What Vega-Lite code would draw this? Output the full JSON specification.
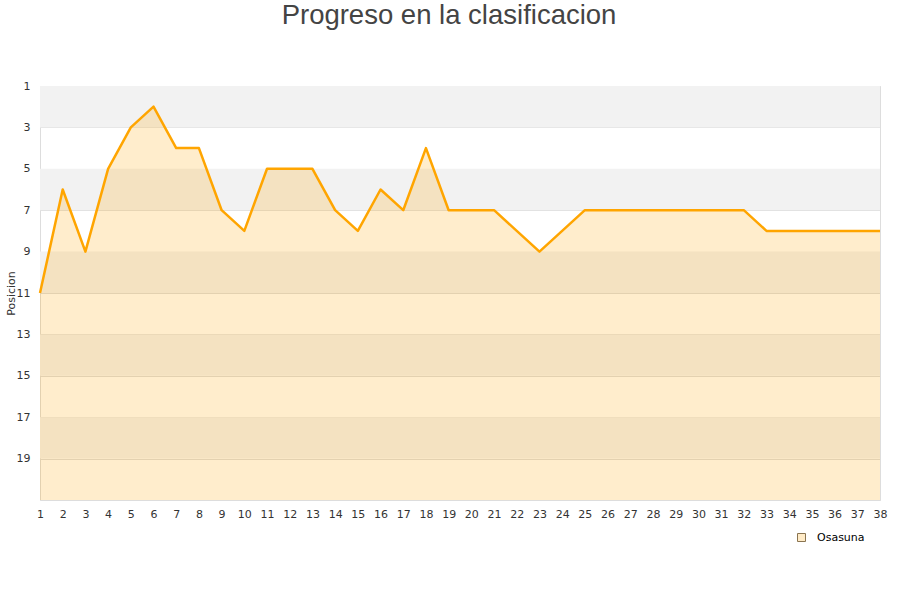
{
  "$schema": "https://vega.github.io/schema/vega-lite/v6.json",
  "width": 840,
  "height": 414,
  "autosize": {"type": "none"},
  "padding": {"left": 40, "top": 86, "right": 20, "bottom": 100},
  "background": "white",
  "title": {
    "text": "Progreso en la clasificacion",
    "font": "Liberation Sans",
    "fontSize": 27.5,
    "fontWeight": "normal",
    "color": "#444444",
    "anchor": "middle",
    "offset": 51,
    "dx": -11
  },
  "config": {
    "view": {"stroke": "#dddddd"},
    "axis": {
      "labelFont": "DejaVu Sans",
      "labelFontSize": 11,
      "labelColor": "#333333",
      "titleFont": "DejaVu Sans",
      "titleFontSize": 11,
      "titleFontWeight": "normal",
      "titleColor": "#333333",
      "ticks": false,
      "domain": false,
      "gridColor": "#dddddd",
      "labelOverlap": false
    },
    "axisX": {"labelOverlap": false, "labelSeparation": 0, "labelBound": false}
  },
  "datasets": {
    "bands": [
      {"y": 1, "y2": 3},
      {"y": 5, "y2": 7},
      {"y": 9, "y2": 11},
      {"y": 13, "y2": 15},
      {"y": 17, "y2": 19}
    ],
    "prog": [
      {"jornada": 1, "pos": 11, "team": "Osasuna"},
      {"jornada": 2, "pos": 6, "team": "Osasuna"},
      {"jornada": 3, "pos": 9, "team": "Osasuna"},
      {"jornada": 4, "pos": 5, "team": "Osasuna"},
      {"jornada": 5, "pos": 3, "team": "Osasuna"},
      {"jornada": 6, "pos": 2, "team": "Osasuna"},
      {"jornada": 7, "pos": 4, "team": "Osasuna"},
      {"jornada": 8, "pos": 4, "team": "Osasuna"},
      {"jornada": 9, "pos": 7, "team": "Osasuna"},
      {"jornada": 10, "pos": 8, "team": "Osasuna"},
      {"jornada": 11, "pos": 5, "team": "Osasuna"},
      {"jornada": 12, "pos": 5, "team": "Osasuna"},
      {"jornada": 13, "pos": 5, "team": "Osasuna"},
      {"jornada": 14, "pos": 7, "team": "Osasuna"},
      {"jornada": 15, "pos": 8, "team": "Osasuna"},
      {"jornada": 16, "pos": 6, "team": "Osasuna"},
      {"jornada": 17, "pos": 7, "team": "Osasuna"},
      {"jornada": 18, "pos": 4, "team": "Osasuna"},
      {"jornada": 19, "pos": 7, "team": "Osasuna"},
      {"jornada": 20, "pos": 7, "team": "Osasuna"},
      {"jornada": 21, "pos": 7, "team": "Osasuna"},
      {"jornada": 22, "pos": 8, "team": "Osasuna"},
      {"jornada": 23, "pos": 9, "team": "Osasuna"},
      {"jornada": 24, "pos": 8, "team": "Osasuna"},
      {"jornada": 25, "pos": 7, "team": "Osasuna"},
      {"jornada": 26, "pos": 7, "team": "Osasuna"},
      {"jornada": 27, "pos": 7, "team": "Osasuna"},
      {"jornada": 28, "pos": 7, "team": "Osasuna"},
      {"jornada": 29, "pos": 7, "team": "Osasuna"},
      {"jornada": 30, "pos": 7, "team": "Osasuna"},
      {"jornada": 31, "pos": 7, "team": "Osasuna"},
      {"jornada": 32, "pos": 7, "team": "Osasuna"},
      {"jornada": 33, "pos": 8, "team": "Osasuna"},
      {"jornada": 34, "pos": 8, "team": "Osasuna"},
      {"jornada": 35, "pos": 8, "team": "Osasuna"},
      {"jornada": 36, "pos": 8, "team": "Osasuna"},
      {"jornada": 37, "pos": 8, "team": "Osasuna"},
      {"jornada": 38, "pos": 8, "team": "Osasuna"}
    ]
  },
  "layer": [
    {
      "data": {"name": "bands"},
      "mark": {"type": "rect", "fill": "#f2f2f2"},
      "encoding": {
        "x": {
          "datum": 1,
          "type": "quantitative",
          "scale": {"domain": [1, 38], "nice": false, "zero": false},
          "axis": {"values": [1,2,3,4,5,6,7,8,9,10,11,12,13,14,15,16,17,18,19,20,21,22,23,24,25,26,27,28,29,30,31,32,33,34,35,36,37,38], "grid": false, "title": null, "labelPadding": 8, "labelFlush": false, "labelOverlap": false, "labelSeparation": 0, "labelBound": false}
        },
        "x2": {"datum": 38},
        "y": {
          "field": "y",
          "type": "quantitative",
          "scale": {"domain": [1, 21], "reverse": true, "nice": false, "zero": false},
          "axis": {"values": [1,3,5,7,9,11,13,15,17,19,21], "labelExpr": "datum.value == 21 ? '' : datum.label", "title": "Posicion", "titleX": -26, "titleY": 207, "titleAngle": -90, "titleBaseline": "alphabetic", "titleAlign": "center", "labelPadding": 10, "labelFlush": false, "labelOverlap": false}
        },
        "y2": {"field": "y2"}
      }
    },
    {
      "data": {"name": "prog"},
      "mark": {"type": "area", "interpolate": "linear", "fillOpacity": 0.2},
      "encoding": {
        "x": {
          "field": "jornada",
          "type": "quantitative",
          "axis": {"values": [1,2,3,4,5,6,7,8,9,10,11,12,13,14,15,16,17,18,19,20,21,22,23,24,25,26,27,28,29,30,31,32,33,34,35,36,37,38], "grid": false, "title": null, "labelPadding": 8, "labelFlush": false, "labelOverlap": false, "labelSeparation": 0, "labelBound": false}
        },
        "y": {
          "field": "pos",
          "type": "quantitative",
          "axis": {"values": [1,3,5,7,9,11,13,15,17,19,21], "labelExpr": "datum.value == 21 ? '' : datum.label", "title": "Posicion", "titleX": -26, "titleY": 207, "titleAngle": -90, "titleBaseline": "alphabetic", "titleAlign": "center", "labelPadding": 10, "labelFlush": false, "labelOverlap": false}
        },
        "y2": {"datum": 21},
        "fill": {
          "field": "team",
          "type": "nominal",
          "scale": {"range": ["#ffa500"]},
          "legend": {
            "orient": "none",
            "legendX": 756,
            "legendY": 446,
            "title": null,
            "symbolType": "square",
            "symbolSize": 64,
            "symbolStrokeColor": "#8a7450",
            "symbolStrokeWidth": 1,
            "labelFont": "DejaVu Sans",
            "labelFontSize": 11,
            "labelColor": "#000000",
            "labelOffset": 10,
            "encode": {
              "symbols": {"update": {"fillOpacity": {"value": 0.22}, "strokeOpacity": {"value": 1}, "opacity": {"value": 1}}}
            }
          }
        }
      }
    },
    {
      "data": {"name": "prog"},
      "mark": {"type": "line", "interpolate": "linear", "stroke": "#ffa500", "strokeWidth": 2.5, "strokeJoin": "round"},
      "encoding": {
        "x": {
          "field": "jornada",
          "type": "quantitative",
          "axis": {"values": [1,2,3,4,5,6,7,8,9,10,11,12,13,14,15,16,17,18,19,20,21,22,23,24,25,26,27,28,29,30,31,32,33,34,35,36,37,38], "grid": false, "title": null, "labelPadding": 8, "labelFlush": false, "labelOverlap": false, "labelSeparation": 0, "labelBound": false}
        },
        "y": {
          "field": "pos",
          "type": "quantitative",
          "axis": {"values": [1,3,5,7,9,11,13,15,17,19,21], "labelExpr": "datum.value == 21 ? '' : datum.label", "title": "Posicion", "titleX": -26, "titleY": 207, "titleAngle": -90, "titleBaseline": "alphabetic", "titleAlign": "center", "labelPadding": 10, "labelFlush": false, "labelOverlap": false}
        }
      }
    }
  ]
}
